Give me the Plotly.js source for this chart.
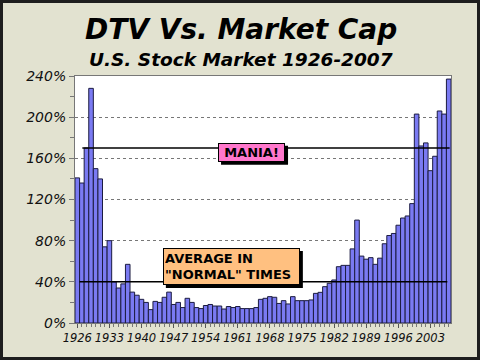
<!DOCTYPE html>
<html>
<head>
<meta charset="utf-8">
<script src="https://cdn.plot.ly/plotly-3.0.1.min.js"></script>
<style>
html,body{margin:0;padding:0;background:#e2e2d0;}
#wrap{position:relative;width:480px;height:360px;}
#chart{width:480px;height:360px;}
#frame{position:absolute;left:0;top:0;width:480px;height:360px;box-sizing:border-box;border:3px solid #1e1e1e;pointer-events:none;}
</style>
</head>
<body>
<div id="wrap"><div id="chart"></div><div id="frame"></div></div>
<script>
const years = [1926,1927,1928,1929,1930,1931,1932,1933,1934,1935,1936,1937,1938,1939,1940,
1941,1942,1943,1944,1945,1946,1947,1948,1949,1950,1951,1952,1953,1954,1955,1956,1957,1958,1959,1960,
1961,1962,1963,1964,1965,1966,1967,1968,1969,1970,1971,1972,1973,1974,1975,1976,1977,1978,1979,1980,
1981,1982,1983,1984,1985,1986,1987,1988,1989,1990,1991,1992,1993,1994,1995,1996,1997,1998,1999,2000,
2001,2002,2003,2004,2005,2006,2007];
const dtvPct = [141,136,170,228,150,140,74,80,40,34,38,57,30,27,23,
20,13,21,20,25,30,18,20,15,24,20,15,14,17,18,16.5,16.5,13.6,16,15,
16,14,14,14,15,23,24,25.6,25,19,21.7,18.5,25.6,21.7,21.7,21.7,22.4,28.8,29.8,35.3,
38.6,41.8,54.7,56,56,72,100,65,62,63.5,57,63,77,85,87,95,102,104,116,203,
172,175,148,162,206,203,237];
const maniaLevel = 170;
const normalAvg = 40;
const titleText = "DTV Vs. Market Cap";
const subtitleText = "U.S. Stock Market 1926-2007";
const maniaLabel = "MANIA!";
const avgLabel = "AVERAGE IN<br>\"NORMAL\" TIMES";

const F = "DejaVu Sans, Verdana, sans-serif";

const trace = {
  type: 'bar', x: years, y: dtvPct,
  marker: {color: '#7a7af2', line: {color: '#1c1c40', width: 1}},
  hoverinfo: 'skip'
};

function boxAnn(text, x, y, w, h, bg, align) {
  return {
    text: text, x: x, y: y, xref: 'x', yref: 'y', showarrow: false,
    width: w, height: h, align: align, valign: 'middle',
    bgcolor: bg, bordercolor: '#000', borderwidth: 1, borderpad: 1,
    font: {family: F, size: 13, weight: 'bold', color: '#000'}
  };
}
function shadow(x, y, w, h) {
  return {type: 'rect', layer: 'above', xref: 'x', yref: 'y',
    xsizemode: 'pixel', ysizemode: 'pixel', xanchor: x, yanchor: y,
    x0: -w / 2 + 3, x1: w / 2 + 3, y0: -h / 2 - 3, y1: h / 2 - 3,
    fillcolor: '#000', line: {width: 0}};
}

const maniaPos = {x: 1964, y: 166};
const avgPos = {x: 1959.6, y: 55};

const layout = {
  width: 480, height: 360,
  margin: {l: 75, r: 29, t: 76, b: 37},
  paper_bgcolor: '#e2e2d0', plot_bgcolor: '#ffffff',
  showlegend: false, bargap: 0,
  xaxis: {
    range: [1925.5, 2007.5], tickmode: 'linear', tick0: 1926, dtick: 7, tickangle: 0,
    ticks: 'outside', ticklen: 4, tickcolor: '#555',
    minor: {dtick: 1, tick0: 1926, ticks: 'outside', ticklen: 3, tickcolor: '#777'},
    showgrid: false, zeroline: false,
    showline: true, linecolor: '#777', mirror: true,
    tickfont: {family: F, size: 11.5, style: 'italic', color: '#111'}
  },
  yaxis: {
    range: [0, 240], tickmode: 'linear', tick0: 0, dtick: 40, ticksuffix: '%',
    ticks: 'outside', ticklen: 5, tickcolor: '#777',
    minor: {dtick: 20, ticks: 'outside', ticklen: 4, tickcolor: '#777', showgrid: false},
    showgrid: true, gridcolor: '#777', griddash: 'dot', gridwidth: 1,
    zeroline: false, showline: true, linecolor: '#777', mirror: true,
    tickfont: {family: F, size: 14, style: 'italic', color: '#111'}
  },
  shapes: [
    {type: 'line', xref: 'x', yref: 'y', x0: 1927.1, x1: 2007.2, y0: maniaLevel, y1: maniaLevel,
     line: {color: '#000', width: 1.5}},
    {type: 'line', xref: 'x', yref: 'y', x0: 1926.5, x1: 2006.7, y0: normalAvg, y1: normalAvg,
     line: {color: '#000', width: 1.5}},
    shadow(maniaPos.x, maniaPos.y, 67, 19),
    shadow(avgPos.x, avgPos.y, 137, 37)
  ],
  annotations: [
    {text: titleText, xref: 'paper', yref: 'paper', x: 0.442, y: 1.19, yanchor: 'middle',
     showarrow: false, font: {family: F, size: 28, weight: 'bold', style: 'italic', color: '#000'}},
    {text: subtitleText, xref: 'paper', yref: 'paper', x: 0.442, y: 1.068, yanchor: 'middle',
     showarrow: false, font: {family: F, size: 18.5, weight: 'bold', style: 'italic', color: '#000'}},
    boxAnn(maniaLabel, maniaPos.x, maniaPos.y, 63, 15, '#ff77cc', 'center'),
    boxAnn(avgLabel, avgPos.x, avgPos.y, 133, 33, '#ffc080', 'left')
  ]
};

Plotly.newPlot('chart', [trace], layout, {displayModeBar: false, staticPlot: true});
</script>
</body>
</html>
